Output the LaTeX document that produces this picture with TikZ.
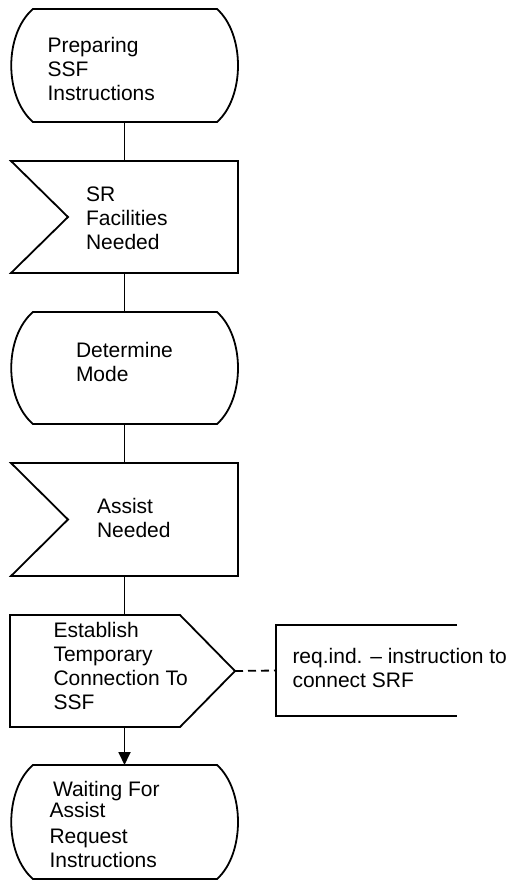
\documentclass[tikz,border=0pt]{standalone}
\usepackage{fontspec}
\setmainfont{Liberation Sans}
\usetikzlibrary{arrows.meta}
\newcommand\mlines[1]{\begin{tabular}[t]{@{}l@{}}#1\end{tabular}}
\tikzset{
  frame/.style 2 args={minimum width=#1, minimum height=#2, inner sep=0pt, outer sep=0pt, draw=none},
  outline/.style={line width=1.8pt, line join=miter},
  conn/.style={line width=1.8pt},
  dashconn/.style={line width=1.8pt, dash pattern=on 8pt off 5pt},
  lbl/.style={anchor=base west, inner sep=0pt, outer sep=0pt, font=\fontsize{21}{24}\selectfont},
}
\newcommand\drawstate[1]{%
  \draw[outline] ([xshift=22pt]#1.north west) -- ([xshift=-21pt]#1.north east)
    .. controls +(28,25) and +(28,-25) .. ([xshift=-21pt]#1.south east)
    -- ([xshift=22pt]#1.south west)
    .. controls +(-29,-25) and +(-29,25) .. ([xshift=22pt]#1.north west) -- cycle;}
\newcommand\drawinput[1]{%
  \draw[outline] (#1.north west) -- (#1.north east) -- (#1.south east) -- (#1.south west)
    -- ([xshift=57pt]#1.west) -- cycle;}
\begin{document}
\begin{tikzpicture}[x=1pt,y=-1pt]
\useasboundingbox (0,0) rectangle (513,881);
% shapes
\node[frame={227pt}{113pt}] (s1) at (124.5,65.5) {};
\node[frame={227pt}{112pt}] (s2) at (124.5,217) {};
\node[frame={227pt}{112pt}] (s3) at (124.5,368) {};
\node[frame={227pt}{113pt}] (s4) at (124.5,519.5) {};
\node[frame={225pt}{112pt}] (s5) at (122.5,671) {};
\node[frame={227pt}{114pt}] (s6) at (124.5,822) {};
\node[frame={181pt}{91pt}] (note) at (366.5,670.5) {};
\drawstate{s1}
\drawinput{s2}
\drawstate{s3}
\drawinput{s4}
\draw[outline] (s5.north west) -- ([xshift=-55pt]s5.north east) -- (s5.east)
  -- ([xshift=-55pt]s5.south east) -- (s5.south west) -- cycle;
\drawstate{s6}
\draw[outline] (note.north east) -- (note.north west) -- (note.south west) -- (note.south east);
% texts
\node[lbl] (t1) at (47.5,52.3) {\mlines{Preparing\\SSF\\Instructions}};
\node[lbl] (t2) at (86,201) {\mlines{SR\\Facilities\\Needed}};
\node[lbl] (t3) at (76,357) {\mlines{Determine\\Mode}};
\node[lbl] (t4) at (97,513.5) {\mlines{Assist\\Needed}};
\node[lbl] (t5) at (53.5,637) {\mlines{Establish\\Temporary\\Connection To\\SSF}};
\node[lbl] (t6) at (49.5,796) {\mlines{\hspace{3.5pt}Waiting For\\[-2.5pt]Assist\\[2pt]Request\\Instructions}};
\node[lbl] (tn) at (292.5,663) {\mlines{req.ind. \textendash{} instruction to\\connect SRF}};
% connectors
\draw[conn] (s1.south) -- (s2.north);
\draw[conn] (s2.south) -- (s3.north);
\draw[conn] (s3.south) -- (s4.north);
\draw[conn] (s4.south) -- (s4.south |- s5.north);
\draw[conn, -{Triangle[length=13pt,width=12pt]}] (s5.south -| s6.north) -- (s6.north);
\draw[dashconn] (s5.east) -- (note.west);
\end{tikzpicture}
\end{document}
